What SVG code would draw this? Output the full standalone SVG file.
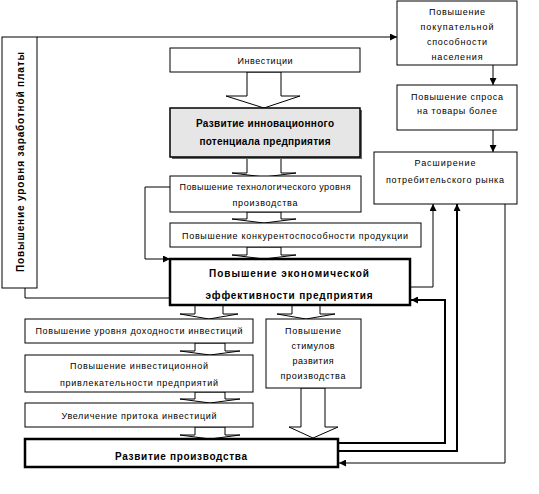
<svg xmlns="http://www.w3.org/2000/svg" width="539" height="494" viewBox="0 0 539 494">
<defs>
<marker id="ah" viewBox="0 0 10 10" refX="10" refY="5" markerWidth="8" markerHeight="7" markerUnits="userSpaceOnUse" orient="auto">
<path d="M0,0 L10,5 L0,10 Z" fill="#000"/>
</marker>
<style>
.box{fill:#fff;stroke:#000;stroke-width:1}
.bold{fill:#fff;stroke:#000;stroke-width:2.5}
.t{font-family:"Liberation Sans",Arial,sans-serif;font-size:9px;fill:#000;text-anchor:middle}
.tb{font-family:"Liberation Sans",Arial,sans-serif;font-size:10px;font-weight:bold;fill:#000;text-anchor:middle}
.ba{fill:#fff;stroke:#000;stroke-width:1}
.c{fill:none;stroke:#000;stroke-width:1}
.c2{fill:none;stroke:#000;stroke-width:2}
</style>
</defs>
<rect width="539" height="494" fill="#fff"/>

<g id="connectors">
<line class="c" x1="37" y1="37" x2="397" y2="37" marker-end="url(#ah)"/>
<line class="c" x1="493" y1="65" x2="493" y2="85" marker-end="url(#ah)"/>
<line class="c" x1="493" y1="130" x2="493" y2="152" marker-end="url(#ah)"/>
<polyline class="c" points="25,288 25,298 170,298"/>
<polyline class="c" points="170,187 145,187 145,259 170,259" marker-end="url(#ah)"/>
<polyline class="c" points="410,287 433,287 433,204" marker-end="url(#ah)"/>
<polyline class="c2" points="338,443 445,443 445,300 411,300" marker-end="url(#ah)"/>
<polyline class="c2" points="338,451 457,451 457,204" marker-end="url(#ah)"/>
<polyline class="c" points="505,204 505,463 339,463" marker-end="url(#ah)"/>
<!-- block arrows -->
<path class="ba" d="M247,72 V96 H226 L264,108 L300,96 H281 V72 Z"/>
<path class="ba" d="M247,157 V173 H232 L264,177 L296,173 H281 V157 Z"/>
<path class="ba" d="M247,212 V219 H232 L264,223 L296,219 H281 V212 Z"/>
<path class="ba" d="M247,247 V255 H232 L264,259 L296,255 H281 V247 Z"/>
<path class="ba" d="M195,305 V314 H180 L209,319 L238,314 H223 V305 Z"/>
<path class="ba" d="M292,305 V314 H277 L306,319 L335,314 H320 V305 Z"/>
<path class="ba" d="M195,343 V351 H180 L210,355 L240,351 H225 V343 Z"/>
<path class="ba" d="M195,392 V399 H180 L210,403 L240,399 H225 V392 Z"/>
<path class="ba" d="M195,427 V435 H180 L210,439 L240,435 H225 V427 Z"/>
<path class="ba" d="M301,388 V427 H289 L313,438 L338,427 H325 V388 Z"/>
</g>

<g id="n-zarplata">
<rect class="box" x="2" y="37" width="35" height="251"/>
<text class="tb" font-size="9.5" transform="translate(24,162) rotate(-90)" textLength="220" lengthAdjust="spacing">Повышение уровня заработной платы</text>
</g>

<g id="n-pokup">
<rect class="box" x="397" y="1" width="120" height="64"/>
<text class="t" x="457" y="15" textLength="56" lengthAdjust="spacing">Повышение</text>
<text class="t" x="457" y="30" textLength="73" lengthAdjust="spacing">покупательной</text>
<text class="t" x="457" y="45" textLength="60" lengthAdjust="spacing">способности</text>
<text class="t" x="457" y="60" textLength="51" lengthAdjust="spacing">населения</text>
</g>

<g id="n-spros">
<rect class="box" x="397" y="85" width="120" height="45"/>
<text class="t" x="457" y="100" textLength="92" lengthAdjust="spacing">Повышение спроса</text>
<text class="t" x="457" y="114" textLength="80" lengthAdjust="spacing">на товары более</text>
</g>

<g id="n-rynok">
<rect class="box" x="374" y="152" width="143" height="52"/>
<text class="t" x="445" y="166" textLength="61" lengthAdjust="spacing">Расширение</text>
<text class="t" x="445" y="183" textLength="118" lengthAdjust="spacing">потребительского рынка</text>
</g>

<g id="n-invest">
<rect class="box" x="170" y="48" width="190" height="24"/>
<text class="t" x="265" y="64" textLength="55" lengthAdjust="spacing">Инвестиции</text>
</g>

<g id="n-innov">
<rect x="172" y="110" width="190" height="49" fill="#666"/>
<rect x="170" y="108" width="190" height="49" fill="#e6e6e6" stroke="#000" stroke-width="1.5"/>
<text class="tb" x="265" y="127" textLength="138" lengthAdjust="spacing">Развитие инновационного</text>
<text class="tb" x="265" y="145" textLength="131" lengthAdjust="spacing">потенциала предприятия</text>
</g>

<g id="n-tech">
<rect class="box" x="170" y="176" width="191" height="36"/>
<text class="t" x="265" y="190" textLength="171" lengthAdjust="spacing">Повышение технологического уровня</text>
<text class="t" x="265" y="206" textLength="65" lengthAdjust="spacing">производства</text>
</g>

<g id="n-konk">
<rect class="box" x="170" y="223" width="251" height="24"/>
<text class="t" x="295" y="239" textLength="226" lengthAdjust="spacing">Повышение конкурентоспособности продукции</text>
</g>

<g id="n-eff">
<rect class="bold" x="170" y="259" width="240" height="46"/>
<text class="tb" font-size="10.5" x="289" y="277" textLength="160" lengthAdjust="spacing">Повышение экономической</text>
<text class="tb" font-size="10.5" x="289" y="299" textLength="167" lengthAdjust="spacing">эффективности предприятия</text>
</g>

<g id="n-dohod">
<rect class="box" x="25" y="319" width="228" height="24"/>
<text class="t" x="139" y="334" textLength="207" lengthAdjust="spacing">Повышение уровня доходности инвестиций</text>
</g>

<g id="n-privl">
<rect class="box" x="25" y="355" width="228" height="37"/>
<text class="t" x="139" y="369" textLength="138" lengthAdjust="spacing">Повышение инвестиционной</text>
<text class="t" x="139" y="386" textLength="158" lengthAdjust="spacing">привлекательности предприятий</text>
</g>

<g id="n-pritok">
<rect class="box" x="25" y="403" width="228" height="24"/>
<text class="t" x="139" y="419" textLength="155" lengthAdjust="spacing">Увеличение притока инвестиций</text>
</g>

<g id="n-stim">
<rect class="box" x="266" y="319" width="95" height="69"/>
<text class="t" x="313" y="334" textLength="56" lengthAdjust="spacing">Повышение</text>
<text class="t" x="313" y="349" textLength="43" lengthAdjust="spacing">стимулов</text>
<text class="t" x="313" y="364" textLength="41" lengthAdjust="spacing">развития</text>
<text class="t" x="313" y="379" textLength="65" lengthAdjust="spacing">производства</text>
</g>

<g id="n-razv">
<rect class="bold" x="25" y="439" width="313" height="28"/>
<text class="tb" font-size="10.5" x="181" y="460" textLength="132" lengthAdjust="spacing">Развитие производства</text>
</g>
</svg>
